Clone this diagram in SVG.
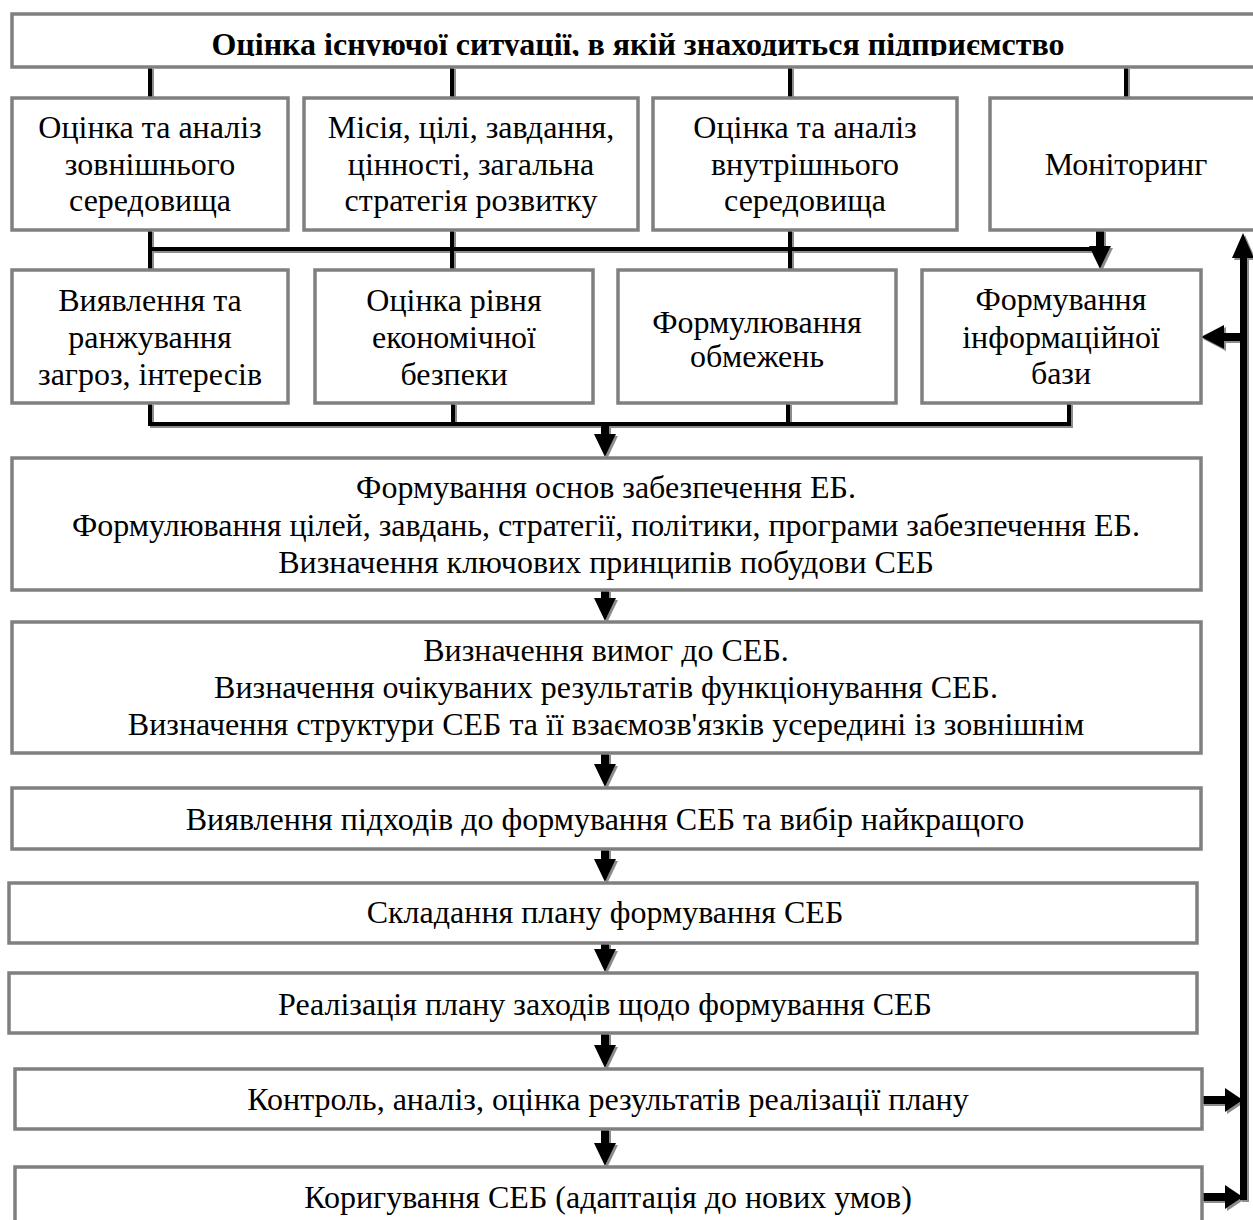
<svg xmlns="http://www.w3.org/2000/svg" width="1253" height="1220" viewBox="0 0 1253 1220">
  <style>
    .box { fill: #ffffff; stroke: #808080; stroke-width: 3.5; }
    .t { font-family: "Liberation Serif", "Times New Roman", serif; font-size: 32px; fill: #000; text-anchor: middle; }
    .tb { font-family: "Liberation Serif", "Times New Roman", serif; font-size: 32px; font-weight: bold; fill: #000; text-anchor: middle; }
    .ln { fill: none; stroke: #000; stroke-width: 4; }
    .ar { fill: #000; stroke: none; }
  </style>
  <defs>
    <filter id="shadow" x="-10%" y="-10%" width="120%" height="120%">
      <feOffset in="SourceAlpha" dx="2" dy="2" result="off"/>
      <feFlood flood-color="#8c8c8c" result="col"/>
      <feComposite in="col" in2="off" operator="in" result="sh"/>
      <feMerge>
        <feMergeNode in="sh"/>
        <feMergeNode in="SourceGraphic"/>
      </feMerge>
    </filter>
    <clipPath id="titleClip">
      <rect x="14" y="16" width="1239" height="40"/>
    </clipPath>
  </defs>

  <rect width="1253" height="1220" fill="#ffffff"/>

  <!-- connectors -->
  <g id="connectors" filter="url(#shadow)">
    <path class="ln" d="M150 67 V98 M452 67 V98 M790 67 V98 M1126 67 V98"/>
    <path class="ln" d="M150 230 V270 M452 230 V270 M790 230 V270 M148 249 H1100"/>
    <path class="ln" d="M150 403 V426 M453 403 V426 M788 403 V426 M1069 403 V426 M148 424 H1071"/>
    <!-- monitoring to information base -->
    <path class="ar" d="M1096 230 H1104 V246 H1111 L1100 269 L1089 246 H1096 Z"/>
    <!-- main vertical flow -->
    <path class="ar" d="M601 424 H609 V434 H616 L605 457 L594 434 H601 Z"/>
    <path class="ar" d="M601 590 H609 V598 H616 L605 621 L594 598 H601 Z"/>
    <path class="ar" d="M601 753 H609 V764 H616 L605 787 L594 764 H601 Z"/>
    <path class="ar" d="M601 849 H609 V859 H616 L605 882 L594 859 H601 Z"/>
    <path class="ar" d="M601 943 H609 V949 H616 L605 972 L594 949 H601 Z"/>
    <path class="ar" d="M601 1033 H609 V1045 H616 L605 1068 L594 1045 H601 Z"/>
    <path class="ar" d="M601 1129 H609 V1143 H616 L605 1166 L594 1143 H601 Z"/>
    <!-- feedback loop on the right -->
    <path class="ar" d="M1240 1200 V258 H1232 L1243 233 L1254 258 H1247 V1200 Z"/>
    <path class="ar" d="M1247 333 V341 H1224 V349 L1201 337 L1224 325 V333 Z"/>
    <path class="ar" d="M1202 1096 H1225 V1088 L1243 1100 L1225 1112 V1104 H1202 Z"/>
    <path class="ar" d="M1202 1193 H1225 V1185 L1243 1197 L1225 1209 V1201 H1202 Z"/>
  </g>

  <!-- top -->
  <g id="n-situation">
    <rect class="box" x="12" y="14" width="1260" height="53"/>
    <text class="tb" x="638" y="55" clip-path="url(#titleClip)">Оцінка існуючої ситуації, в якій знаходиться підприємство</text>
  </g>

  <!-- row 1 -->
  <g id="n-external">
    <rect class="box" x="12" y="98" width="276" height="132"/>
    <text class="t" x="150" y="138">Оцінка та аналіз</text>
    <text class="t" x="150" y="175">зовнішнього</text>
    <text class="t" x="150" y="211">середовища</text>
  </g>
  <g id="n-mission">
    <rect class="box" x="304" y="98" width="334" height="132"/>
    <text class="t" x="471" y="138">Місія, цілі, завдання,</text>
    <text class="t" x="471" y="175">цінності, загальна</text>
    <text class="t" x="471" y="211">стратегія розвитку</text>
  </g>
  <g id="n-internal">
    <rect class="box" x="653" y="98" width="304" height="132"/>
    <text class="t" x="805" y="138">Оцінка та аналіз</text>
    <text class="t" x="805" y="175">внутрішнього</text>
    <text class="t" x="805" y="211">середовища</text>
  </g>
  <g id="n-monitoring">
    <rect class="box" x="990" y="98" width="280" height="132"/>
    <text class="t" x="1126" y="175">Моніторинг</text>
  </g>

  <!-- row 2 -->
  <g id="n-threats">
    <rect class="box" x="12" y="270" width="276" height="133"/>
    <text class="t" x="150" y="311">Виявлення та</text>
    <text class="t" x="150" y="348">ранжування</text>
    <text class="t" x="150" y="385">загроз, інтересів</text>
  </g>
  <g id="n-level">
    <rect class="box" x="315" y="270" width="278" height="133"/>
    <text class="t" x="454" y="311">Оцінка рівня</text>
    <text class="t" x="454" y="348">економічної</text>
    <text class="t" x="454" y="385">безпеки</text>
  </g>
  <g id="n-limits">
    <rect class="box" x="618" y="270" width="278" height="133"/>
    <text class="t" x="757" y="333">Формулювання</text>
    <text class="t" x="757" y="367">обмежень</text>
  </g>
  <g id="n-infobase">
    <rect class="box" x="922" y="270" width="279" height="133"/>
    <text class="t" x="1061" y="310">Формування</text>
    <text class="t" x="1061" y="348">інформаційної</text>
    <text class="t" x="1061" y="384">бази</text>
  </g>

  <!-- main sequence -->
  <g id="n-foundations">
    <rect class="box" x="12" y="458" width="1189" height="132"/>
    <text class="t" x="606" y="498">Формування основ забезпечення ЕБ.</text>
    <text class="t" x="606" y="536">Формулювання цілей, завдань, стратегії, політики, програми забезпечення ЕБ.</text>
    <text class="t" x="606" y="573">Визначення ключових принципів побудови СЕБ</text>
  </g>
  <g id="n-requirements">
    <rect class="box" x="12" y="622" width="1189" height="131"/>
    <text class="t" x="606" y="661">Визначення вимог до СЕБ.</text>
    <text class="t" x="606" y="698">Визначення очікуваних результатів функціонування СЕБ.</text>
    <text class="t" x="606" y="735">Визначення структури СЕБ та її взаємозв'язків усередині із зовнішнім</text>
  </g>
  <g id="n-approaches">
    <rect class="box" x="12" y="788" width="1189" height="61"/>
    <text class="t" x="605" y="830">Виявлення підходів до формування СЕБ та вибір найкращого</text>
  </g>
  <g id="n-plan">
    <rect class="box" x="9" y="883" width="1188" height="60"/>
    <text class="t" x="605" y="923">Складання плану формування СЕБ</text>
  </g>
  <g id="n-implementation">
    <rect class="box" x="9" y="973" width="1188" height="60"/>
    <text class="t" x="605" y="1015">Реалізація плану заходів щодо формування СЕБ</text>
  </g>
  <g id="n-control">
    <rect class="box" x="15" y="1069" width="1187" height="60"/>
    <text class="t" x="608" y="1110">Контроль, аналіз, оцінка результатів реалізації плану</text>
  </g>
  <g id="n-correction">
    <rect class="box" x="15" y="1167" width="1187" height="80"/>
    <text class="t" x="608" y="1208">Коригування СЕБ (адаптація до нових умов)</text>
  </g>
</svg>
